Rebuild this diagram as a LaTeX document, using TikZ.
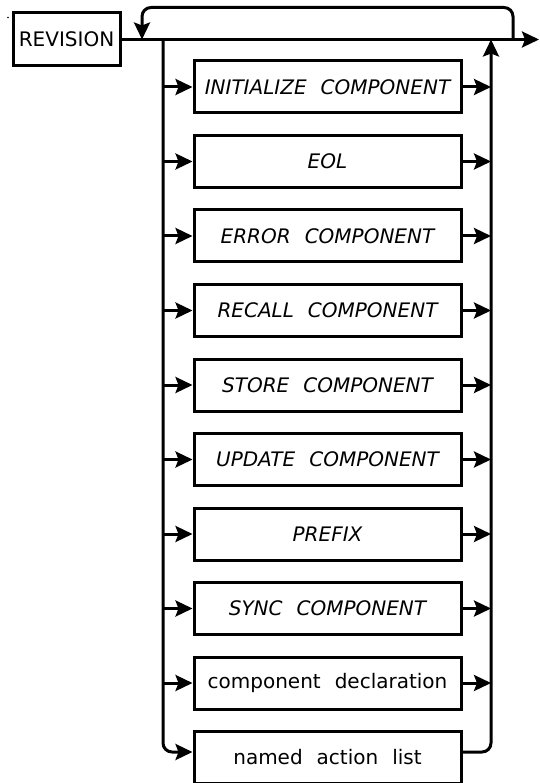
\documentclass[tikz,border=0pt]{standalone}
\usepackage{fontspec}
\setmainfont{DejaVu Sans}
\usetikzlibrary{arrows.meta}
\newcommand\wgap{\hspace{0.7em}}
\begin{document}
\begin{tikzpicture}[x=1pt,y=-1pt,
  line width=3pt,
  txt/.style={font=\fontsize{20}{20}\selectfont},
  box/.style={draw, rectangle, minimum width=267pt, minimum height=52pt, inner sep=0pt, txt},
  kw/.style={box, font=\fontsize{20}{20}\selectfont\itshape},
  arr/.style={-{Stealth[length=17pt,width=16pt,inset=3pt]}},
]
\useasboundingbox (0,0) rectangle (539,783);
\fill (8,17.5) circle (0.9);
\node[draw, rectangle, minimum width=107pt, minimum height=53pt, inner sep=0pt, txt] (rev) at (66.5,39.5) {REVISION};
\coordinate (L) at (163,39.5);
\coordinate (R) at (491,39.5);
\coordinate (out) at (539,39.5);
\coordinate (lpA) at (513,39.5);
\coordinate (lpB) at (142,39.5);
\node[kw] (n1) at (327.5,87) {INITIALIZE\wgap COMPONENT};
\node[kw] (n2) at (327.5,161.5) {EOL};
\node[kw] (n3) at (327.5,236) {ERROR\wgap COMPONENT};
\node[kw] (n4) at (327.5,310.5) {RECALL\wgap COMPONENT};
\node[kw] (n5) at (327.5,385) {STORE\wgap COMPONENT};
\node[kw] (n6) at (327.5,459.5) {UPDATE\wgap COMPONENT};
\node[kw] (n7) at (327.5,534) {PREFIX};
\node[kw] (n8) at (327.5,608.5) {SYNC\wgap COMPONENT};
\node[box] (n9) at (327.5,683) {component\wgap declaration};
\node[box] (n10) at (327.5,757.5) {named\wgap action\wgap list};
\coordinate (r10) at (0,752);
% main line
\draw[arr] (rev.east) -- (out);
% loop back
\draw[arr, rounded corners=9pt] (lpA) -- (513,7.5) -- (142,7.5) -- (lpB);
% left rail
\draw[arr, rounded corners=9pt] (L) -- (L |- r10) -- (n10.west |- r10);
% right rail
\draw[arr, rounded corners=9pt] (n10.east |- r10) -- (R |- r10) -- (R);
% branches
\foreach \i in {1,...,9} {
  \draw[arr] (L |- n\i.west) -- (n\i.west);
  \draw[arr] (n\i.east) -- (R |- n\i.east);
}
\end{tikzpicture}
\end{document}
